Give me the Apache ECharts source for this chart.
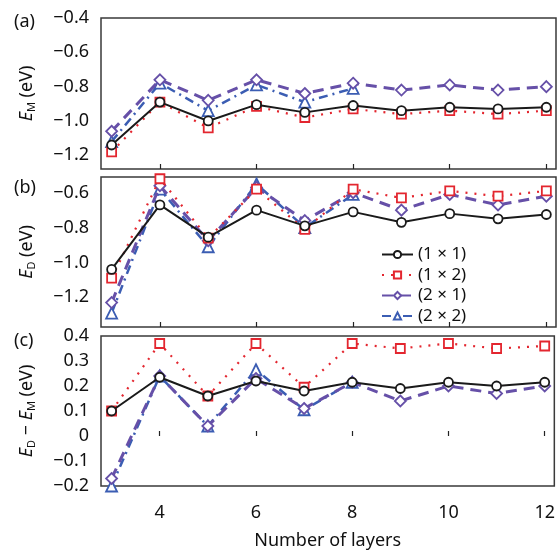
<!DOCTYPE html>
<html>
<head>
<meta charset="utf-8">
<script src="https://cdn.jsdelivr.net/npm/echarts@6/dist/echarts.min.js"></script>
<style>
  html, body { margin: 0; padding: 0; background: #fff; }
  #main { width: 558px; height: 551px; }
</style>
</head>
<body>
<div id="main"></div>
<script>
// number of layers
var layers = [3, 4, 5, 6, 7, 8, 9, 10, 11, 12];
var names = ['(1 × 1)', '(1 × 2)', '(2 × 1)', '(2 × 2)'];

// (a) E_M (eV)
var em11 = [-1.14, -0.89, -1.00, -0.905, -0.95, -0.91, -0.94, -0.92, -0.93, -0.92];
var em12 = [-1.18, -0.89, -1.04, -0.915, -0.98, -0.93, -0.96, -0.94, -0.96, -0.94];
var em21 = [-1.06, -0.76, -0.88, -0.76, -0.84, -0.78, -0.82, -0.79, -0.82, -0.80];
var em22 = [-1.12, -0.78, -0.94, -0.79, -0.89, -0.81];

// (b) E_D (eV)
var ed11 = [-1.04, -0.67, -0.855, -0.70, -0.79, -0.71, -0.77, -0.72, -0.75, -0.725];
var ed12 = [-1.09, -0.52, -0.86, -0.58, -0.81, -0.58, -0.63, -0.59, -0.62, -0.59];
var ed21 = [-1.23, -0.56, -0.875, -0.57, -0.76, -0.60, -0.70, -0.61, -0.67, -0.62];
var ed22 = [-1.29, -0.58, -0.91, -0.55, -0.80, -0.61];

// (c) E_D - E_M (eV)
var d11 = [0.10, 0.235, 0.16, 0.22, 0.18, 0.215, 0.19, 0.215, 0.20, 0.215];
var d12 = [0.10, 0.37, 0.16, 0.37, 0.195, 0.37, 0.35, 0.37, 0.35, 0.36];
var d21 = [-0.17, 0.24, 0.04, 0.23, 0.11, 0.215, 0.14, 0.20, 0.17, 0.20];
var d22 = [-0.20, 0.24, 0.04, 0.265, 0.105, 0.215];

var xTicks = [4, 6, 8, 10, 12];
var yTicksA = [-1.2, -1.0, -0.8, -0.6, -0.4];
var yTicksB = [-1.2, -1.0, -0.8, -0.6];
var yTicksC = [-0.2, -0.1, 0, 0.1, 0.2, 0.3, 0.4];

var FONT = 'Noto Sans';

function pairs(arr) {
  return arr.map(function (v, i) { return [layers[i], v]; });
}

function fmt(v) {
  if (Math.abs(v) < 1e-9) return '0';
  var s = Math.abs(v).toFixed(1);
  return (v < 0 ? '\u2212' : '') + s;
}

var styles = [
  { color: '#1a1a1a', symbol: 'circle', size: 9, line: { width: 2, type: 'solid' } },
  { color: '#e3262f', symbol: 'rect', size: 9, line: { width: 2.2, type: [2, 7] } },
  { color: '#6650a8', symbol: 'diamond', size: 11, line: { width: 3, type: [11, 7] } },
  { color: '#3b5db3', symbol: 'triangle', size: 11, line: { width: 2.5, type: [9, 5, 2, 5] } }
];

var grids = [
  { left: 101, right: 2, top: 18, height: 151 },
  { left: 101, right: 2, top: 177, height: 150 },
  { left: 101, right: 2, top: 336, height: 151 }
].map(function (g) {
  g.show = true;
  g.borderColor = '#3a3a3a';
  g.borderWidth = 1.5;
  g.backgroundColor = 'transparent';
  return g;
});

function xAxis(i) {
  return {
    type: 'value', gridIndex: i, min: 2.78, max: 12.2,
    axisLine: { show: false },
    splitLine: { show: false },
    axisTick: { show: true, inside: true, length: 5, customValues: xTicks, lineStyle: { color: '#222', width: 1.2 } },
    axisLabel: { show: i === 2, customValues: xTicks, fontFamily: FONT, fontSize: 18, color: '#111', margin: 18 },
    name: i === 2 ? 'Number of layers' : '',
    nameLocation: 'middle', nameGap: 46,
    nameTextStyle: { fontFamily: FONT, fontSize: 18, color: '#111' }
  };
}

var subRich = {
  i: { fontFamily: FONT, fontSize: 18, fontStyle: 'italic', color: '#111' },
  s: { fontFamily: FONT, fontSize: 11, color: '#111', padding: [9, 0, 0, 0] },
  t: { fontFamily: FONT, fontSize: 18, color: '#111' }
};

function yAxis(i, min, max, ticks, name) {
  return {
    type: 'value', gridIndex: i, min: min, max: max,
    axisLine: { show: false },
    splitLine: { show: false },
    axisTick: { show: false },
    axisLabel: {
      customValues: ticks, formatter: fmt,
      fontFamily: FONT, fontSize: 18, color: '#111', margin: 12
    },
    name: name, nameLocation: 'middle', nameRotate: 90, nameGap: 64,
    nameTextStyle: { rich: subRich, fontFamily: FONT, fontSize: 18, color: '#111' }
  };
}

var panelData = [
  [em11, em12, em21, em22],
  [ed11, ed12, ed21, ed22],
  [d11, d12, d21, d22]
];

var series = [];
panelData.forEach(function (group, gi) {
  group.forEach(function (arr, si) {
    var st = styles[si];
    series.push({
      name: names[si],
      type: 'line',
      xAxisIndex: gi, yAxisIndex: gi,
      data: pairs(arr),
      symbol: st.symbol,
      symbolSize: st.size,
      showAllSymbol: true,
      clip: false,
      lineStyle: { color: st.color, width: st.line.width, type: st.line.type },
      itemStyle: { color: '#fff', borderColor: st.color, borderWidth: 1.8 },
      z: 2 + (3 - si),
      animation: false
    });
  });
});

var chart = echarts.init(document.getElementById('main'), null, { renderer: 'canvas' });
chart.setOption({
  backgroundColor: '#fff',
  animation: false,
  grid: grids,
  xAxis: [xAxis(0), xAxis(1), xAxis(2)],
  yAxis: [
    yAxis(0, -1.28, -0.4, yTicksA, '{i|E}{s|M}{t| (eV)}'),
    yAxis(1, -1.37, -0.51, yTicksB, '{i|E}{s|D}{t| (eV)}'),
    yAxis(2, -0.2, 0.4, yTicksC, '{i|E}{s|D}{t| \u2212 }{i|E}{s|M}{t| (eV)}')
  ],
  legend: {
    data: names,
    orient: 'vertical',
    left: 376, top: 241,
    itemWidth: 31, itemHeight: 9, itemGap: 3.5,
    textStyle: { fontFamily: FONT, fontSize: 17, color: '#111' }
  },
  graphic: [
    { type: 'text', left: 14, top: 13, style: { text: '(a)', font: '18px "Noto Sans"', fill: '#111' } },
    { type: 'text', left: 14, top: 179, style: { text: '(b)', font: '18px "Noto Sans"', fill: '#111' } },
    { type: 'text', left: 14, top: 332, style: { text: '(c)', font: '18px "Noto Sans"', fill: '#111' } }
  ],
  series: series
});
</script>
</body>
</html>
